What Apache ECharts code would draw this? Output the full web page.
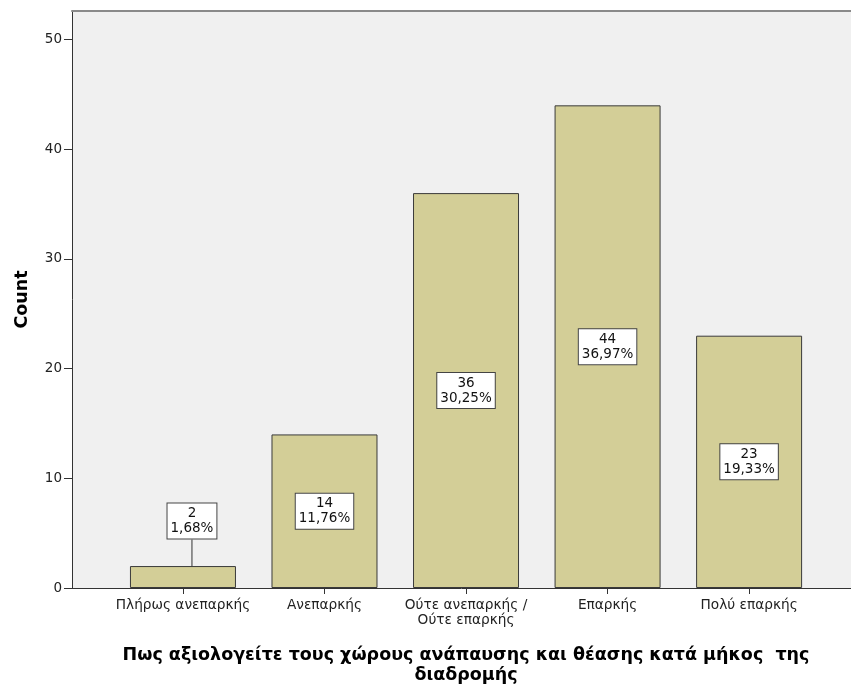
<!DOCTYPE html>
<html>
<head>
<meta charset="utf-8">
<script src="https://cdn.jsdelivr.net/npm/echarts@6/dist/echarts.min.js"></script>
<style>
  html, body { margin: 0; padding: 0; background: #fff; }
  #main { width: 851px; height: 691px; }
</style>
</head>
<body>
<div id="main"></div>
<script>
// categories and values
var categories = ['Πλήρως ανεπαρκής', 'Ανεπαρκής', 'Ούτε ανεπαρκής /\nΟύτε επαρκής', 'Επαρκής', 'Πολύ επαρκής']
var counts = [2, 14, 36, 44, 23]
var percents = ['1,68%', '11,76%', '30,25%', '36,97%', '19,33%']
var yTicks = [0, 10, 20, 30, 40, 50]
var xTicks = [0, 1, 2, 3, 4]

var font = 'DejaVu Sans'
var chart = echarts.init(document.getElementById('main'))

var barData = []
for (var i = 0; i < counts.length; i++) {
  barData.push([i, counts[i]])
}

chart.setOption({
  animation: false,
  grid: {
    left: 72, right: 0, top: 11, bottom: 103,
    show: true, backgroundColor: '#f0f0f0', borderWidth: 0
  },
  xAxis: [{
    type: 'value', min: -0.784, max: 4.72,
    splitLine: { show: false },
    axisLine: { onZero: false, lineStyle: { color: '#333', width: 1 } },
    axisTick: { show: true, length: 6, customValues: xTicks, lineStyle: { color: '#333' } },
    axisLabel: {
      customValues: xTicks, margin: 10,
      fontFamily: font, fontSize: 13.7, color: '#222', lineHeight: 15,
      formatter: function (v) { return categories[Math.round(v)] }
    }
  }, {
    type: 'value', position: 'top', min: -0.784, max: 4.72,
    splitLine: { show: false },
    axisLine: { show: true, onZero: false, lineStyle: { color: '#8a8a8a', width: 2 } },
    axisTick: { show: false }, axisLabel: { show: false }
  }],
  yAxis: {
    type: 'value', min: 0, max: 52.6,
    name: 'Count', nameLocation: 'middle', nameGap: 41, nameRotate: 90,
    nameTextStyle: { fontFamily: font, fontSize: 17.5, fontWeight: 'bold', color: '#000' },
    splitLine: { show: false },
    axisLine: { show: true, onZero: false, lineStyle: { color: '#333', width: 1 } },
    axisTick: { show: true, length: 8, customValues: yTicks, lineStyle: { color: '#333' } },
    axisLabel: { customValues: yTicks, margin: 10, fontFamily: font, fontSize: 13.5, color: '#222' }
  },
  series: [{
    type: 'bar',
    data: barData,
    barWidth: 106,
    itemStyle: { color: '#d3ce97', borderColor: '#3a3a3a', borderWidth: 1 },
    label: {
      show: true, position: 'inside',
      fontFamily: font, fontSize: 13.5, lineHeight: 15, color: '#111',
      backgroundColor: '#fff', borderColor: '#444', borderWidth: 1,
      padding: [3, 3, 2, 3],
      formatter: function (p) { return counts[p.dataIndex] + '\n' + percents[p.dataIndex] }
    },
    labelLine: { show: true, lineStyle: { color: '#333', width: 1 } },
    labelLayout: function (p) {
      if (p.dataIndex === 0) return { dx: 9, dy: -56 }
      return {}
    }
  }],
  graphic: [{
    type: 'text',
    x: 466, y: 645,
    style: {
      text: 'Πως αξιολογείτε τους χώρους ανάπαυσης και θέασης κατά μήκος  της\nδιαδρομής',
      align: 'center', verticalAlign: 'top',
      font: 'bold 17.5px "DejaVu Sans"', lineHeight: 20, fill: '#000'
    }
  }]
})
</script>
</body>
</html>
